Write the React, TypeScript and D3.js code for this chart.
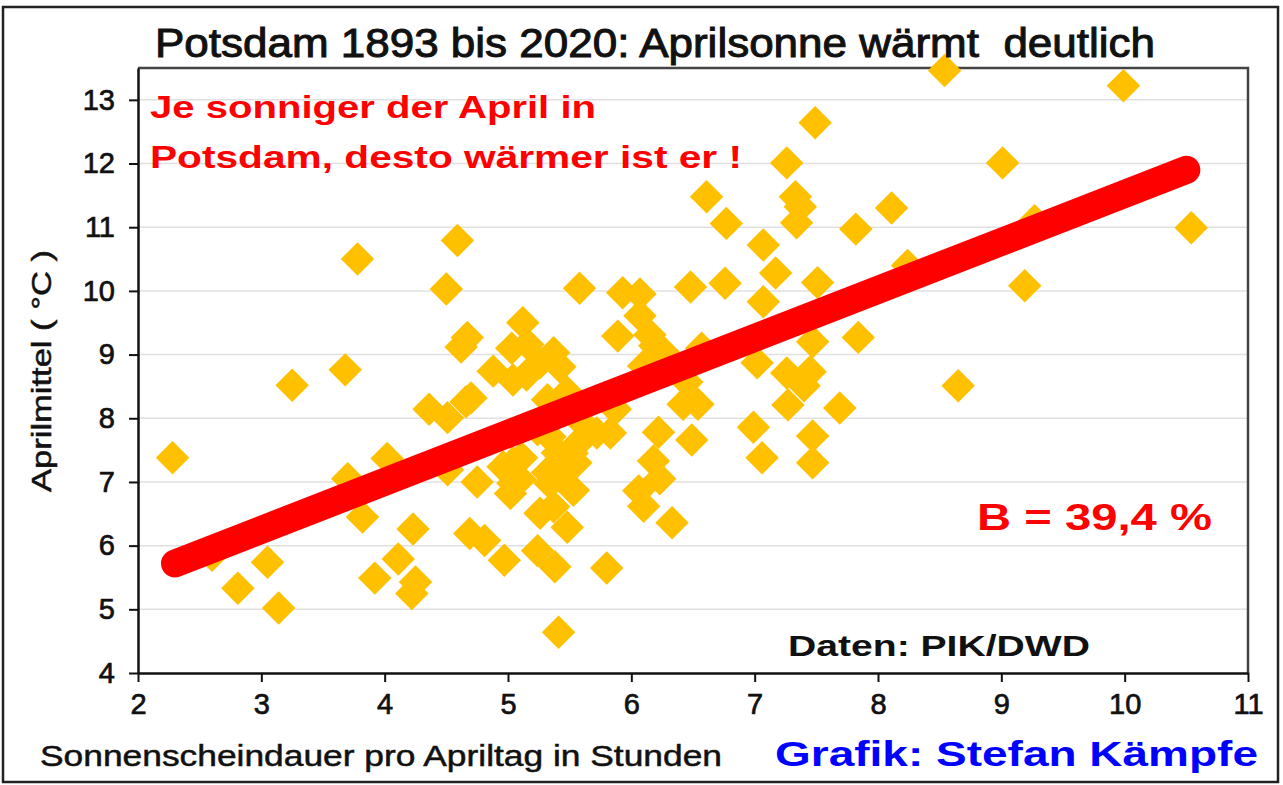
import { useEffect, useRef } from 'react';
import * as d3 from 'd3';

// Sonnenscheindauer (h/Tag) und Aprilmittel (°C)
const sunHours = [
  2.28, 2.6, 2.81, 3.05, 3.14, 3.25, 3.68, 3.7, 3.78, 3.82,
  3.92, 4.02, 4.11, 4.22, 4.25, 4.23, 4.36, 4.5, 4.59, 4.51,
  4.51, 4.62, 4.67, 4.66, 4.7, 4.69, 4.75, 4.81, 4.88, 4.97,
  4.96, 5.04, 5.02, 5.1, 5.0, 5.04, 5.11, 5.04, 5.03, 5.16,
  5.12, 5.15, 5.26, 5.37, 5.42, 5.32, 5.48, 5.24, 5.34, 5.58,
  5.72, 5.58, 5.55, 5.4, 5.52, 5.32, 5.34, 5.42, 5.53, 5.26,
  5.37, 5.48, 5.24, 5.38, 5.41, 5.8, 5.58, 5.89, 5.93, 6.07,
  6.07, 6.15, 6.19, 6.26, 6.57, 6.1, 6.45, 5.87, 5.83, 6.22,
  6.18, 6.23, 6.06, 6.1, 6.33, 6.42, 6.54, 6.49, 6.48, 6.61,
  6.77, 6.76, 7.07, 7.17, 7.07, 7.26, 7.33, 7.37, 7.34, 7.49,
  7.51, 7.82, 7.84, 7.47, 7.02, 7.26, 7.45, 7.4, 7.27, 7.69,
  6.99, 7.47, 7.06, 7.47, 8.11, 8.24, 8.54, 8.65, 9.01, 9.19,
  9.27, 9.99, 10.54,
];
const aprilTemp = [
  7.38, 5.85, 5.33, 5.74, 5.02, 8.52, 8.76, 7.05, 10.5, 6.45,
  5.49, 7.37, 5.79, 5.25, 5.43, 6.26, 8.14, 10.03, 10.79, 8.01,
  7.19, 9.12, 9.27, 8.26, 8.32, 6.19, 7.0, 6.08, 8.74, 5.77,
  7.24, 6.98, 6.82, 7.04, 7.19, 7.3, 7.38, 8.6, 9.1, 9.16,
  9.5, 8.68, 8.87, 9.03, 8.81, 8.29, 8.41, 7.82, 7.71, 7.97,
  7.77, 7.63, 7.3, 7.46, 7.45, 7.15, 6.98, 7.08, 6.87, 6.51,
  6.61, 6.29, 5.92, 5.67, 4.64, 5.65, 10.04, 9.29, 9.97, 9.95,
  9.61, 9.31, 9.14, 9.04, 9.1, 8.82, 8.57, 8.14, 7.77, 7.78,
  7.33, 7.05, 6.86, 6.62, 6.36, 8.22, 8.22, 7.66, 10.06, 11.48,
  11.06, 10.12, 10.72, 10.28, 9.83, 12.01, 11.48, 11.32, 11.07, 12.64,
  10.13, 10.97, 9.27, 9.2, 8.87, 8.71, 8.73, 8.51, 8.21, 8.16,
  7.86, 7.72, 7.38, 7.3, 11.3, 10.4, 13.46, 8.51, 12.01, 10.08,
  11.1, 13.22, 10.99,
];

const trendX = [2.3, 10.5];
const trendY = [5.72, 11.9];

const xTicks = [2, 3, 4, 5, 6, 7, 8, 9, 10, 11];
const yTicks = [4, 5, 6, 7, 8, 9, 10, 11, 12, 13];

const NARROW = '"Liberation Sans Narrow", "Arial Narrow", "Liberation Sans", Arial, sans-serif';
const ARIAL = '"Liberation Sans", Arial, sans-serif';

export default function App() {
  const svgRef = useRef<SVGSVGElement>(null);

  useEffect(() => {
    if (!svgRef.current) return;
    const svg = d3.select(svgRef.current);
    svg.selectAll('*').remove();

    const W = 1283, H = 785;
    const left = 138, right = 1248, top = 68, bottom = 673;

    const x = d3.scaleLinear().domain([2, 11]).range([left, right]);
    const y = d3.scaleLinear().domain([4, 13.5]).range([bottom, top]);

    svg.attr('width', W).attr('height', H);

    svg.append('rect')
      .attr('width', W).attr('height', H).attr('fill', '#fff');

    // outer frame
    svg.append('rect')
      .attr('x', 3).attr('y', 7).attr('width', 1275).attr('height', 775)
      .attr('fill', 'none').attr('stroke', '#222').attr('stroke-width', 2.5);

    // grid
    svg.append('g')
      .selectAll('line')
      .data(yTicks.filter(t => t > 4))
      .enter()
      .append('line')
      .attr('x1', left).attr('x2', right)
      .attr('y1', d => y(d)).attr('y2', d => y(d))
      .attr('stroke', '#e0e0e0').attr('stroke-width', 1.5);

    // plot frame top / right
    svg.append('path')
      .attr('d', `M${left},${top}H${right}V${bottom}`)
      .attr('fill', 'none').attr('stroke', '#444').attr('stroke-width', 2.5);

    // points
    const diamond = d3.symbol().type(d3.symbolSquare).size(560);
    svg.append('g')
      .selectAll('path')
      .data(sunHours.map((s, i) => [s, aprilTemp[i]]))
      .enter()
      .append('path')
      .attr('d', diamond)
      .attr('transform', d => `translate(${x(d[0])},${y(d[1])}) rotate(45)`)
      .attr('fill', '#FFC000');

    // trend line
    const line = d3.line<number>().x(d => x(d)).y((_, i) => y(trendY[i]));
    svg.append('path')
      .attr('d', line(trendX))
      .attr('fill', 'none')
      .attr('stroke', '#FF0000')
      .attr('stroke-width', 28)
      .attr('stroke-linecap', 'round');

    // x axis
    svg.append('g')
      .attr('transform', `translate(0,${bottom})`)
      .call(d3.axisBottom(x).tickValues(xTicks).tickSize(9).tickSizeOuter(0).tickPadding(11))
      .call(g => g.select('.domain').attr('stroke', '#111').attr('stroke-width', 2.5))
      .call(g => g.selectAll('.tick line').attr('stroke', '#111').attr('stroke-width', 2))
      .call(g => g.selectAll('.tick text')
        .attr('fill', '#111')
        .attr('stroke', '#111').attr('stroke-width', 0.7)
        .attr('font-family', NARROW)
        .attr('font-size', '29px'));

    // y axis
    svg.append('g')
      .attr('transform', `translate(${left},0)`)
      .call(d3.axisLeft(y).tickValues(yTicks).tickSize(9).tickSizeOuter(0).tickPadding(14))
      .call(g => g.select('.domain').attr('stroke', '#111').attr('stroke-width', 2.5))
      .call(g => g.selectAll('.tick line').attr('stroke', '#111').attr('stroke-width', 2))
      .call(g => g.selectAll('.tick text')
        .attr('fill', '#111')
        .attr('stroke', '#111').attr('stroke-width', 0.7)
        .attr('font-family', NARROW)
        .attr('font-size', '29px'));

    // title
    svg.append('text')
      .attr('x', 155).attr('y', 57)
      .attr('textLength', 1000).attr('lengthAdjust', 'spacingAndGlyphs')
      .style('white-space', 'pre')
      .attr('font-family', NARROW).attr('font-size', '40px')
      .attr('fill', '#111')
      .attr('stroke', '#111').attr('stroke-width', 1)
      .text('Potsdam 1893 bis 2020: Aprilsonne wärmt  deutlich');

    // y label
    svg.append('text')
      .attr('transform', 'translate(51,492) rotate(-90)')
      .attr('textLength', 242).attr('lengthAdjust', 'spacingAndGlyphs')
      .attr('font-family', NARROW).attr('font-size', '28px')
      .attr('fill', '#111')
      .attr('stroke', '#111').attr('stroke-width', 0.5)
      .text('Aprilmittel ( °C )');

    // x label
    svg.append('text')
      .attr('x', 40).attr('y', 766)
      .attr('textLength', 682).attr('lengthAdjust', 'spacingAndGlyphs')
      .attr('font-family', NARROW).attr('font-size', '29px')
      .attr('fill', '#111')
      .attr('stroke', '#111').attr('stroke-width', 0.5)
      .text('Sonnenscheindauer pro Apriltag in Stunden');

    svg.append('text')
      .attr('x', 775).attr('y', 766)
      .attr('textLength', 483).attr('lengthAdjust', 'spacingAndGlyphs')
      .attr('font-family', ARIAL).attr('font-size', '35px').attr('font-weight', 'bold')
      .attr('fill', '#0000FF')
      .text('Grafik: Stefan Kämpfe');

    // annotations
    const ann = [
      { t: 'Je sonniger der April in', x: 150, y: 118, w: 446 },
      { t: 'Potsdam, desto wärmer ist er !', x: 150, y: 168, w: 592 },
    ];
    svg.append('g')
      .selectAll('text')
      .data(ann)
      .enter()
      .append('text')
      .attr('x', d => d.x).attr('y', d => d.y)
      .attr('textLength', d => d.w).attr('lengthAdjust', 'spacingAndGlyphs')
      .attr('font-family', ARIAL).attr('font-size', '31px').attr('font-weight', 'bold')
      .attr('fill', '#FF0000')
      .text(d => d.t);

    svg.append('text')
      .attr('x', 977).attr('y', 530)
      .attr('textLength', 235).attr('lengthAdjust', 'spacingAndGlyphs')
      .attr('font-family', ARIAL).attr('font-size', '37px').attr('font-weight', 'bold')
      .attr('fill', '#FF0000')
      .text('B = 39,4 %');

    svg.append('text')
      .attr('x', 788).attr('y', 656)
      .attr('textLength', 302).attr('lengthAdjust', 'spacingAndGlyphs')
      .attr('font-family', ARIAL).attr('font-size', '29px').attr('font-weight', 'bold')
      .attr('fill', '#111')
      .text('Daten: PIK/DWD');
  }, []);

  return (
    <svg
      ref={svgRef}
      style={{ position: 'absolute', left: 0, top: 0, display: 'block' }}
    />
  );
}
